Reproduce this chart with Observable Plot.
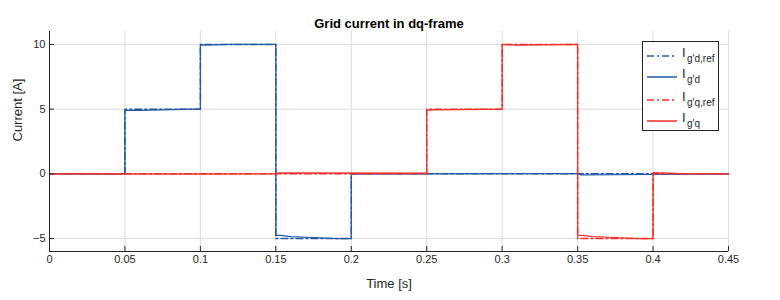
<!DOCTYPE html>
<html><head><meta charset="utf-8">
<script src="https://cdn.jsdelivr.net/npm/d3@7"></script>
<script src="https://cdn.jsdelivr.net/npm/@observablehq/plot@0.6"></script>
<style>
body{margin:0;background:#fff;}
#wrap{position:relative;width:780px;height:300px;font-family:"Liberation Sans",Arial,sans-serif;color:#262626;}
#legend{position:absolute;left:642px;top:41px;width:77px;height:90px;border:1px solid #262626;background:#fff;box-sizing:border-box;}
.row{position:absolute;left:4px;height:22px;font-size:13px;}
.row svg{position:absolute;left:0;top:6px;}
.row .I{position:absolute;left:35px;top:0px;font-size:13px;}
.row .s{position:absolute;left:40px;top:8px;font-size:10px;white-space:nowrap;}
</style></head>
<body><div id="wrap"></div>
<script>
const title = "Grid current in dq-frame";
const xLabel = "Time [s]";
const yLabel = "Current [A]";
const xTicks = [0,0.05,0.1,0.15,0.2,0.25,0.3,0.35,0.4,0.45];
const yTicks = [-5,0,5,10];
const legendNames = ["g'd,ref","g'd","g'q,ref","g'q"];

// reference step values (time of step start, value)
const tRef = [0,0.05,0.1,0.15,0.2,0.25,0.3,0.35,0.4,0.45];
const idRef = [0,5,10,-5,0,0,0,0,0,0];
const iqRef = [0,0,0,0,0,5,10,-5,0,0];

const tMeasD = [0,0.05,0.05,0.06,0.095,0.1,0.1,0.12,0.15,0.15,0.153,0.16,0.175,0.19,0.2,0.2,0.3,0.35,0.352,0.4,0.45];
const idMeas = [0,0,4.9,4.9,5.0,5.0,9.95,10,10,-4.75,-4.75,-4.85,-4.92,-5.0,-5.0,0,0.02,0.02,-0.08,-0.05,0];
const tMeasQ = [0,0.1,0.15,0.152,0.25,0.25,0.255,0.3,0.3,0.31,0.35,0.35,0.353,0.36,0.375,0.39,0.4,0.4,0.42,0.45];
const iqMeas = [0,-0.02,0,0.08,0.05,4.9,4.95,5.0,10,9.95,10,-4.75,-4.75,-4.85,-4.92,-5.0,-5.0,0.1,0.02,0];

const blue = "#2458a6", red = "#f2302a";
const dashDot = "7,3,2,3";

const refD = tRef.map((t,i)=>({t, v:idRef[i]}));
const refQ = tRef.map((t,i)=>({t, v:iqRef[i]}));
const measD = tMeasD.map((t,i)=>({t, v:idMeas[i]}));
const measQ = tMeasQ.map((t,i)=>({t, v:iqMeas[i]}));

const font = '"Liberation Sans",Arial,sans-serif';
const plot = Plot.plot({
  width: 780, height: 300,
  marginLeft: 49, marginRight: 52, marginTop: 31, marginBottom: 49,
  style: {fontFamily: font, fontSize: "11px", color: "#262626", background: "#fff"},
  x: {domain: [0,0.45]},
  y: {domain: [-6,11]},
  marks: [
    Plot.gridX(xTicks, {stroke: "#dcdcdc", strokeOpacity: 1}),
    Plot.gridY(yTicks, {stroke: "#dcdcdc", strokeOpacity: 1}),
    Plot.line(refD, {x:"t", y:"v", curve:"step-after", stroke: blue, strokeWidth: 1.5, strokeDasharray: dashDot}),
    Plot.line(measD, {x:"t", y:"v", stroke: blue, strokeWidth: 1.2}),
    Plot.line(refQ, {x:"t", y:"v", curve:"step-after", stroke: red, strokeWidth: 1.5, strokeDasharray: dashDot}),
    Plot.line(measQ, {x:"t", y:"v", stroke: red, strokeWidth: 1.2}),
    Plot.ruleX([0], {stroke:"#262626"}),
    Plot.ruleY([-6], {stroke:"#262626"}),
    Plot.axisX(xTicks, {tickSize: -5, tickPadding: 9, tickFormat: d => String(d), label: null, stroke:"#262626", fill:"#262626"}),
    Plot.axisY(yTicks, {tickSize: -5, tickPadding: 9, label: null, stroke:"#262626", fill:"#262626"}),
    Plot.text([xLabel], {frameAnchor: "bottom", dy: 36, fontSize: 13, fill: "#262626"}),
    Plot.text([yLabel], {frameAnchor: "left", dx: -32, rotate: -90, fontSize: 13, fill: "#262626"}),
    Plot.text([title], {frameAnchor: "top", dy: -13, fontSize: 13, fontWeight: "bold", fill: "#000"})
  ]
});
const wrap = document.getElementById("wrap");
wrap.appendChild(plot);

const legend = document.createElement("div");
legend.id = "legend";
const colors = [blue, blue, red, red];
const dashes = [dashDot, null, dashDot, null];
const rowTops = [3, 24, 47, 68];
legendNames.forEach((n,i)=>{
  const r = document.createElement("div");
  r.className = "row";
  r.style.top = rowTops[i] + "px";
  r.innerHTML = `<svg width="30" height="10"><line x1="0" x2="30" y1="5" y2="5" stroke="${colors[i]}" stroke-width="1.5" ${dashes[i]?`stroke-dasharray="${dashes[i]}"`:""}/></svg><span class="I">I</span><span class="s">${n}</span>`;
  legend.appendChild(r);
});
wrap.appendChild(legend);
</script></body></html>
